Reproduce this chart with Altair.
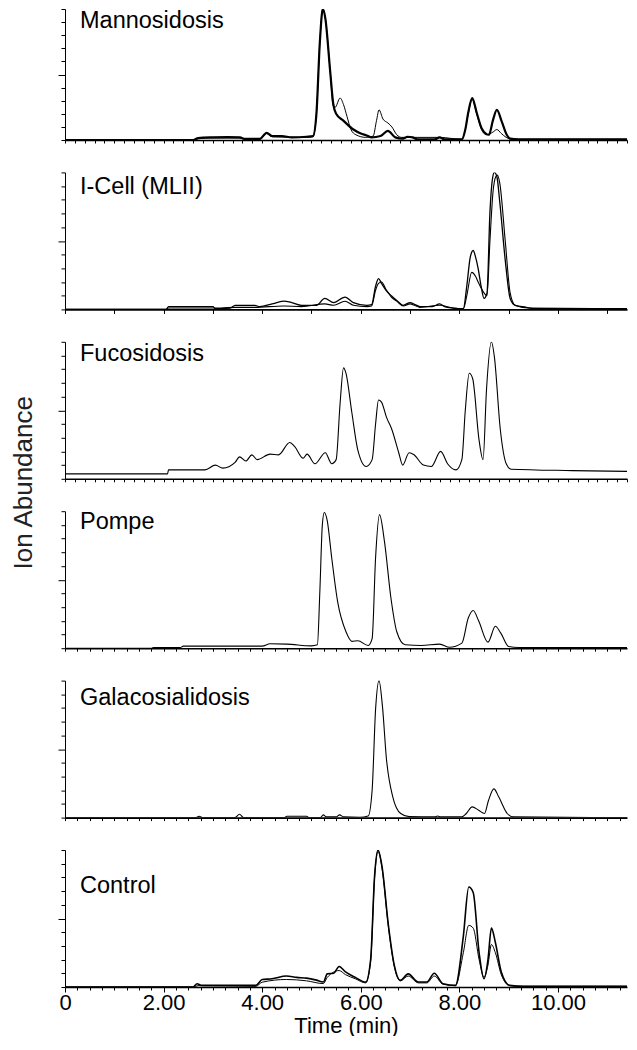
import altair as alt
import pandas as pd

# ---------------- data (time in min, relative ion abundance) ----------------
mann_a_t = [0.0, 2.6, 2.7, 3.0, 3.3, 3.55, 3.65, 3.95, 4.09, 4.2, 4.4, 4.6, 4.9, 5.03, 5.1, 5.17, 5.23, 5.28,
            5.38, 5.44, 5.5, 5.64, 5.85, 6.0, 6.12, 6.22, 6.4, 6.55, 6.7, 6.85, 6.95, 7.05, 7.15, 7.5, 7.6, 7.7,
            8.05, 8.12, 8.18, 8.26, 8.35, 8.45, 8.55, 8.6, 8.68, 8.76, 8.86, 8.96, 9.03, 9.2, 11.4]
mann_a_v = [0.0, 0.0, 0.015, 0.02, 0.022, 0.02, 0.008, 0.008, 0.055, 0.03, 0.03, 0.02, 0.025, 0.03, 0.2, 0.75, 1.0, 0.93,
            0.52, 0.28, 0.2, 0.15, 0.08, 0.05, 0.035, 0.02, 0.03, 0.07, 0.02, 0.01, 0.025, 0.02, 0.005, 0.005, 0.02, 0.005,
            0.005, 0.08, 0.21, 0.32, 0.21, 0.09, 0.045, 0.04, 0.15, 0.23, 0.14, 0.04, 0.01, 0.005, 0.005]
mann_b_t = [0.0, 2.6, 2.7, 3.0, 3.55, 3.65, 3.95, 4.09, 4.2, 4.9, 5.03, 5.1, 5.17, 5.23, 5.28, 5.38, 5.44, 5.48,
            5.58, 5.65, 5.72, 5.8, 5.9, 6.1, 6.25, 6.32, 6.37, 6.45, 6.55, 6.63, 6.73, 6.83, 7.0, 7.6, 8.05, 8.12,
            8.18, 8.26, 8.35, 8.45, 8.55, 8.68, 8.76, 8.85, 8.95, 9.1, 11.4]
mann_b_v = [0.0, 0.0, 0.01, 0.015, 0.015, 0.005, 0.005, 0.05, 0.025, 0.02, 0.025, 0.2, 0.75, 1.0, 0.93, 0.52, 0.26, 0.25,
            0.32, 0.27, 0.18, 0.08, 0.04, 0.02, 0.03, 0.15, 0.23, 0.16, 0.13, 0.1, 0.04, 0.02, 0.02, 0.02, 0.005, 0.08,
            0.2, 0.31, 0.2, 0.08, 0.04, 0.06, 0.08, 0.05, 0.02, 0.005, 0.005]

icell_a_t = [0.0, 2.05, 2.1, 3.0, 3.05, 3.35, 3.45, 3.85, 3.95, 4.2, 4.43, 4.6, 4.8, 5.1, 5.27, 5.45, 5.68, 5.85,
             6.12, 6.22, 6.3, 6.36, 6.42, 6.52, 6.62, 6.73, 6.86, 7.0, 7.1, 7.2, 7.45, 7.6, 7.7, 7.87, 8.08, 8.15,
             8.22, 8.28, 8.33, 8.38, 8.44, 8.5, 8.56, 8.62, 8.67, 8.71, 8.76, 8.82, 8.93, 9.03, 9.13, 9.36, 9.5, 11.4]
icell_a_v = [0.0, 0.0, 0.02, 0.02, 0.005, 0.01, 0.03, 0.03, 0.02, 0.04, 0.06, 0.05, 0.03, 0.03, 0.08, 0.05, 0.09, 0.05,
             0.03, 0.035, 0.17, 0.225, 0.19, 0.136, 0.1, 0.065, 0.03, 0.05, 0.035, 0.02, 0.02, 0.04, 0.02, 0.01, 0.005, 0.17,
             0.38, 0.43, 0.38, 0.3, 0.17, 0.08, 0.12, 0.71, 0.95, 1.0, 0.97, 0.78, 0.36, 0.08, 0.03, 0.015, 0.005, 0.005]
icell_b_t = [0.0, 2.05, 2.1, 3.0, 3.45, 3.85, 4.43, 4.8, 5.27, 5.45, 5.68, 5.85, 6.12, 6.22, 6.3, 6.36, 6.42, 6.52,
             6.62, 6.73, 6.86, 7.0, 7.2, 7.6, 7.87, 8.08, 8.15, 8.25, 8.33, 8.38, 8.5, 8.56, 8.62, 8.68, 8.74, 8.77,
             8.82, 8.93, 9.03, 9.13, 9.4, 11.4]
icell_b_v = [0.0, 0.0, 0.01, 0.01, 0.015, 0.015, 0.025, 0.02, 0.04, 0.03, 0.06, 0.03, 0.02, 0.025, 0.14, 0.19, 0.2, 0.14,
             0.09, 0.06, 0.025, 0.04, 0.015, 0.03, 0.01, 0.005, 0.1, 0.27, 0.24, 0.2, 0.12, 0.1, 0.5, 0.85, 0.97, 0.98,
             0.92, 0.5, 0.12, 0.03, 0.01, 0.005]

fuco_t = [0.0, 2.08, 2.1, 2.84, 3.05, 3.2, 3.45, 3.54, 3.67, 3.79, 3.9, 4.16, 4.33, 4.56, 4.66, 4.83, 4.91, 5.07,
          5.28, 5.41, 5.5, 5.58, 5.65, 5.7, 5.82, 5.94, 6.11, 6.23, 6.3, 6.36, 6.42, 6.52, 6.63, 6.77, 6.85, 6.98,
          7.08, 7.27, 7.43, 7.62, 7.76, 7.93, 8.05, 8.12, 8.2, 8.27, 8.4, 8.48, 8.55, 8.65, 8.71, 8.83, 8.95, 9.05,
          10.29, 11.4]
fuco_v = [0.036, 0.036, 0.065, 0.065, 0.1, 0.078, 0.12, 0.16, 0.13, 0.175, 0.14, 0.18, 0.175, 0.265, 0.235, 0.15, 0.18, 0.11,
          0.19, 0.11, 0.14, 0.55, 0.81, 0.77, 0.48, 0.21, 0.09, 0.14, 0.4, 0.575, 0.56, 0.45, 0.36, 0.19, 0.1, 0.19,
          0.175, 0.1, 0.09, 0.2, 0.11, 0.065, 0.14, 0.5, 0.77, 0.73, 0.28, 0.14, 0.65, 1.0, 0.89, 0.36, 0.11, 0.07,
          0.06, 0.054]

pompe_t = [0.0, 1.76, 1.8, 2.34, 2.4, 4.0, 4.16, 4.5, 5.0, 5.12, 5.17, 5.22, 5.26, 5.32, 5.41, 5.53, 5.7, 5.82,
           5.94, 6.15, 6.23, 6.3, 6.38, 6.48, 6.61, 6.73, 6.9, 7.23, 7.6, 7.8, 8.05, 8.18, 8.28, 8.39, 8.58, 8.73,
           8.84, 9.0, 9.2, 11.4]
pompe_v = [0.0, 0.0, 0.005, 0.005, 0.015, 0.015, 0.032, 0.03, 0.017, 0.025, 0.42, 0.9, 0.99, 0.93, 0.66, 0.34, 0.12, 0.05,
           0.054, 0.02, 0.07, 0.66, 0.975, 0.78, 0.37, 0.12, 0.025, 0.02, 0.03, 0.007, 0.037, 0.22, 0.275, 0.2, 0.044, 0.16,
           0.11, 0.012, 0.005, 0.005]

galaco_t = [0.0, 2.65, 2.72, 2.8, 3.45, 3.54, 3.62, 4.45, 4.5, 4.9, 4.95, 5.18, 5.24, 5.3, 5.5, 5.57, 5.65, 5.98,
            6.15, 6.23, 6.3, 6.37, 6.44, 6.52, 6.65, 6.81, 6.98, 7.5, 7.56, 7.62, 8.05, 8.14, 8.26, 8.39, 8.51, 8.59,
            8.7, 8.8, 8.97, 9.09, 11.4]
galaco_v = [0.0, 0.0, 0.01, 0.0, 0.0, 0.024, 0.0, 0.0, 0.01, 0.01, 0.0, 0.0, 0.02, 0.005, 0.005, 0.02, 0.005, 0.003,
            0.012, 0.2, 0.79, 1.0, 0.81, 0.43, 0.15, 0.03, 0.007, 0.005, 0.012, 0.005, 0.005, 0.03, 0.078, 0.054, 0.03, 0.125,
            0.21, 0.15, 0.03, 0.005, 0.0]

ctrl_a_t = [0.0, 2.6, 2.68, 2.76, 3.87, 4.0, 4.2, 4.49, 4.7, 4.9, 5.1, 5.24, 5.32, 5.45, 5.56, 5.69, 5.89, 6.1,
            6.2, 6.28, 6.35, 6.43, 6.56, 6.68, 6.8, 6.96, 7.17, 7.34, 7.49, 7.67, 7.92, 8.08, 8.19, 8.28, 8.4, 8.5,
            8.58, 8.65, 8.73, 8.85, 9.02, 9.3, 11.4]
ctrl_a_v = [0.0, 0.0, 0.024, 0.012, 0.012, 0.055, 0.06, 0.08, 0.07, 0.065, 0.05, 0.036, 0.096, 0.1, 0.15, 0.11, 0.07, 0.036,
            0.2, 0.81, 1.0, 0.88, 0.45, 0.157, 0.048, 0.096, 0.036, 0.036, 0.1, 0.024, 0.012, 0.37, 0.73, 0.69, 0.25, 0.06,
            0.2, 0.43, 0.325, 0.11, 0.012, 0.005, 0.005]
ctrl_b_t = [0.0, 2.6, 2.7, 3.87, 4.0, 4.49, 4.9, 5.24, 5.32, 5.56, 5.69, 5.89, 6.1, 6.2, 6.28, 6.35, 6.43, 6.56,
            6.68, 6.8, 6.96, 7.17, 7.34, 7.49, 7.67, 7.92, 8.08, 8.19, 8.28, 8.4, 8.5, 8.58, 8.65, 8.73, 8.85, 9.02,
            9.3, 11.4]
ctrl_b_v = [0.0, 0.0, 0.01, 0.005, 0.035, 0.055, 0.045, 0.025, 0.07, 0.12, 0.09, 0.06, 0.03, 0.19, 0.8, 0.99, 0.87, 0.44,
            0.15, 0.045, 0.08, 0.03, 0.03, 0.08, 0.02, 0.01, 0.25, 0.45, 0.43, 0.2, 0.07, 0.16, 0.31, 0.25, 0.09, 0.01,
            0.005, 0.005]

panel_labels = ["Mannosidosis", "I-Cell (MLII)", "Fucosidosis", "Pompe", "Galacosialidosis", "Control"]
y_ticks = [0.0, 0.1, 0.2, 0.3, 0.4, 0.5, 0.6, 0.7, 0.8, 0.9, 1.0]
x_label_values = [0, 2, 4, 6, 8, 10]
x_title = "Time (min)"
y_title = "Ion Abundance"

# ---------------- layout constants ----------------
X_MAX = 11.4
W = 562
FONT = "Liberation Sans"

x_scale = alt.Scale(domain=[0, X_MAX], nice=False, zero=False)
y_scale = alt.Scale(domain=[0, 1], nice=False, zero=True)


def tick_list(step):
    n = int(X_MAX / step + 1e-9)
    return [round(i * step, 3) for i in range(n + 1)]


def y_axis():
    return alt.Axis(values=y_ticks, labels=False, title=None, grid=False,
                    domainColor="black", domainWidth=1, tickColor="black", tickWidth=1,
                    tickSize={"condition": {"test": "datum.value == 0.5", "value": 7}, "value": 4})


def x_axis(step, bottom=False, tick=3):
    if not bottom:
        return alt.Axis(values=tick_list(step), labels=False, title=None, grid=False,
                        domainColor="black", domainWidth=1.6, tickColor="black", tickWidth=1,
                        tickSize=tick)
    majors = "indexof([" + ",".join(str(v) for v in x_label_values) + "], datum.value) >= 0"
    return alt.Axis(values=tick_list(step), grid=False, title=x_title,
                    labelExpr="(" + majors + ") ? (datum.value == 0 ? '0' : format(datum.value, '.2f')) : ''",
                    labelOverlap=False, labelFlush=False, labelFont=FONT, labelFontSize=22,
                    labelColor="black", labelPadding=0,
                    titleFont=FONT, titleFontSize=22, titleFontWeight="normal", titleColor="black",
                    titlePadding=2,
                    domainColor="black", domainWidth=1.6, tickColor="black", tickWidth=1,
                    tickSize={"condition": {"test": majors, "value": 5}, "value": 3})


def panel(traces, label, label_y, height, step, bottom=False, tick=3, extra=None):
    rows = []
    for name, ts, vs, w in traces:
        for t, v in zip(ts, vs):
            rows.append({"trace": name, "t": t, "v": v, "w": w})
    df = pd.DataFrame(rows)
    line = alt.Chart(df).mark_line(color="black", interpolate="monotone", clip=True).encode(
        x=alt.X("t:Q", scale=x_scale, axis=x_axis(step, bottom, tick)),
        y=alt.Y("v:Q", scale=y_scale, axis=y_axis()),
        detail="trace:N",
        strokeWidth=alt.StrokeWidth("w:Q", scale=None, legend=None),
    )
    txt = alt.Chart(pd.DataFrame({"label": [label]})).mark_text(
        align="left", baseline="alphabetic", font=FONT, fontSize=23.5, color="black"
    ).encode(x=alt.value(15), y=alt.value(label_y), text="label:N")
    layers = [line, txt]
    if extra is not None:
        layers.append(extra)
    return alt.layer(*layers).properties(width=W, height=height)


ytitle_layer = alt.Chart(pd.DataFrame({"label": [y_title]})).mark_text(
    align="center", baseline="alphabetic", angle=270, font=FONT, fontSize=26, color="#222222"
).encode(x=alt.value(-33), y=alt.value(141), text="label:N")

H = 137
p1 = panel([("a", mann_a_t, mann_a_v, 2.2), ("b", mann_b_t, mann_b_v, 1.0)], panel_labels[0], 19, 131, 0.2)
p2 = panel([("a", icell_a_t, icell_a_v, 1.3), ("b", icell_b_t, icell_b_v, 1.1)], panel_labels[1], 22, H, 1.0, tick=4)
p3 = panel([("a", fuco_t, fuco_v, 1.1)], panel_labels[2], 19, H, 0.2, extra=ytitle_layer)
p4 = panel([("a", pompe_t, pompe_v, 1.1)], panel_labels[3], 18, H, 0.25)
p5 = panel([("a", galaco_t, galaco_v, 1.1)], panel_labels[4], 24, H, 0.25)
p6 = panel([("a", ctrl_a_t, ctrl_a_v, 1.6), ("b", ctrl_b_t, ctrl_b_v, 1.0)], panel_labels[5], 43, H, 0.25,
           bottom=True)

chart = alt.vconcat(p1, p2, p3, p4, p5, p6, spacing=32.4, bounds="flush").properties(
    padding={"left": 2, "top": 0, "right": 0, "bottom": 0}
).configure_view(stroke=None)

chart.save("out.html", embed_options={"renderer": "svg", "actions": False})
